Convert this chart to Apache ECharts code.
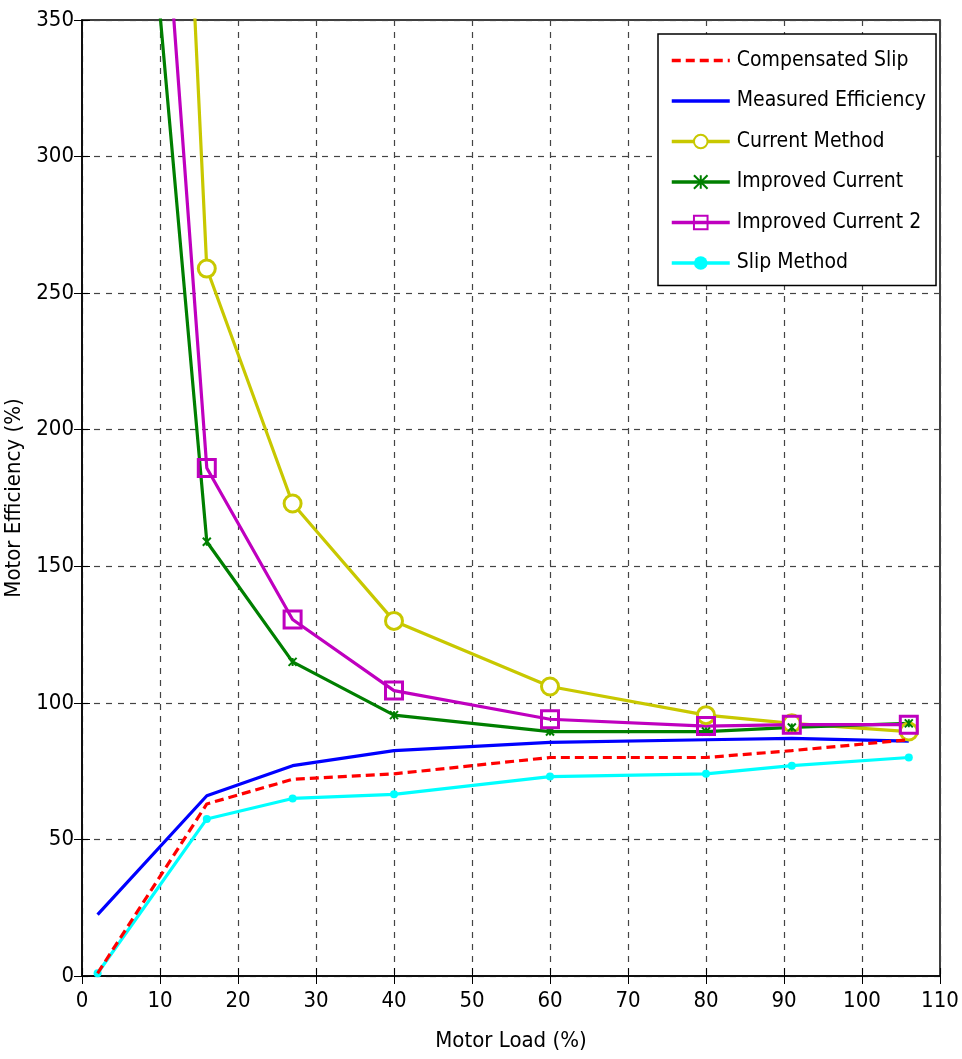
<!DOCTYPE html>
<html>
<head>
<meta charset="utf-8">
<script src="https://cdn.jsdelivr.net/npm/echarts@6/dist/echarts.min.js"></script>
<style>
  html, body { margin: 0; padding: 0; background: #fff; }
  #chart { width: 962px; height: 1059px; }
</style>
</head>
<body>
<div id="chart"></div>
<script>
// Motor load points (%)
const motorLoad = [2, 16, 27, 40, 60, 80, 91, 106];

// Efficiency estimates (%) for each method
const compensatedSlip   = [1, 63, 72, 74, 80, 80, 82.5, 86.5];
const measuredEfficiency = [22.5, 66, 77, 82.5, 85.5, 86.5, 87, 86];
const currentMethod     = [1100, 259, 173, 130, 106, 95.5, 92.5, 89.5];
const improvedCurrent   = [610, 159, 115, 95.5, 89.5, 89.5, 91, 92.5];
const improvedCurrent2  = [730, 186, 130.5, 104.5, 94, 91.5, 92, 92];
const slipMethod        = [1, 57.5, 65, 66.5, 73, 74, 77, 80];

const xTicks = { min: 0, max: 110, interval: 10 };
const yTicks = { min: 0, max: 350, interval: 50 };

const FONT = "'DejaVu Sans Condensed', 'Liberation Sans Narrow', 'Liberation Sans', sans-serif";

function pairs(ys) { return motorLoad.map((x, i) => [x, ys[i]]); }

function lineSeries(name, ys, color, opts) {
  return Object.assign({
    name: name,
    type: 'line',
    data: pairs(ys),
    showSymbol: false,
    symbol: 'none',
    clip: true,
    lineStyle: { color: color, width: 3.2 },
    itemStyle: { color: color },
    z: 3
  }, opts || {});
}

const xPath = 'path://M0,0 L10,10 M10,0 L0,10 M5,0 L5,10';

const chart = echarts.init(document.getElementById('chart'), null, { renderer: 'canvas' });

const gridLine = { show: true, lineStyle: { color: '#444', type: [6, 6], width: 1.2 } };
const hiddenMark = { color: 'rgba(0,0,0,0)', borderColor: 'rgba(0,0,0,0)', borderWidth: 0 };

chart.setOption({
  animation: false,
  backgroundColor: '#fff',
  grid: {
    left: 82, right: 22, top: 20, bottom: 83,
    outerBoundsMode: 'none', containLabel: false,
    show: true, borderColor: '#000', borderWidth: 1.5
  },
  legend: {
    left: 658, top: 34,
    orient: 'vertical',
    itemWidth: 58, itemHeight: 17, itemGap: 19.5,
    padding: [16, 10, 12, 12],
    borderColor: '#000', borderWidth: 1.5,
    backgroundColor: '#fff',
    lineStyle: { width: 3.5 },
    textStyle: { fontFamily: FONT, fontSize: 21, color: '#000', padding: [0, 0, 0, 2] },
    data: [
      { name: 'Compensated Slip', itemStyle: hiddenMark },
      { name: 'Measured Efficiency', itemStyle: hiddenMark },
      'Current Method', 'Improved Current', 'Improved Current 2', 'Slip Method'
    ]
  },
  xAxis: [{
    type: 'value', min: xTicks.min, max: xTicks.max, interval: xTicks.interval,
    name: 'Motor Load (%)', nameLocation: 'middle', nameGap: 54,
    nameTextStyle: { fontFamily: FONT, fontSize: 22, color: '#000' },
    axisLine: { show: true, lineStyle: { color: '#000', width: 1.5 } },
    axisTick: { show: true, inside: true, length: 8, lineStyle: { color: '#000' } },
    axisLabel: { fontFamily: FONT, fontSize: 22, color: '#000', margin: 14 },
    splitLine: gridLine
  }, {
    type: 'value', position: 'top', min: xTicks.min, max: xTicks.max, interval: xTicks.interval,
    axisLine: { show: false }, axisLabel: { show: false }, splitLine: { show: false },
    axisTick: { show: true, inside: true, length: 8, lineStyle: { color: '#000' } }
  }],
  yAxis: [{
    type: 'value', min: yTicks.min, max: yTicks.max, interval: yTicks.interval,
    name: 'Motor Efficiency (%)', nameLocation: 'middle', nameGap: 45, nameRotate: 90,
    nameTextStyle: { fontFamily: FONT, fontSize: 22, color: '#000' },
    axisLine: { show: true, lineStyle: { color: '#000', width: 1.5 } },
    axisTick: { show: true, inside: true, length: 8, lineStyle: { color: '#000' } },
    axisLabel: { fontFamily: FONT, fontSize: 22, color: '#000', margin: 8 },
    splitLine: gridLine
  }, {
    type: 'value', position: 'right', min: yTicks.min, max: yTicks.max, interval: yTicks.interval,
    axisLine: { show: false }, axisLabel: { show: false }, splitLine: { show: false },
    axisTick: { show: true, inside: true, length: 8, lineStyle: { color: '#000' } }
  }],
  series: [
    lineSeries('Compensated Slip', compensatedSlip, '#ff0000', {
      lineStyle: { color: '#ff0000', width: 3.2, type: [9, 5] }, z: 4
    }),
    lineSeries('Measured Efficiency', measuredEfficiency, '#0000ff'),
    lineSeries('Current Method', currentMethod, '#c8c800', {
      showSymbol: true, symbol: 'circle', symbolSize: 17,
      itemStyle: { color: '#fff', borderColor: '#c8c800', borderWidth: 3 }
    }),
    lineSeries('Improved Current', improvedCurrent, '#007f00', {
      showSymbol: true, symbol: xPath, symbolSize: 8,
      itemStyle: { color: '#007f00', borderColor: '#007f00', borderWidth: 2 }
    }),
    lineSeries('Improved Current 2', improvedCurrent2, '#bf00bf', {
      showSymbol: true, symbol: 'rect', symbolSize: 17,
      itemStyle: { color: 'rgba(255,255,255,0)', borderColor: '#bf00bf', borderWidth: 3 }
    }),
    lineSeries('Slip Method', slipMethod, '#00ffff', {
      showSymbol: true, symbol: 'circle', symbolSize: 8,
      itemStyle: { color: '#00ffff' }
    })
  ]
});
</script>
</body>
</html>
